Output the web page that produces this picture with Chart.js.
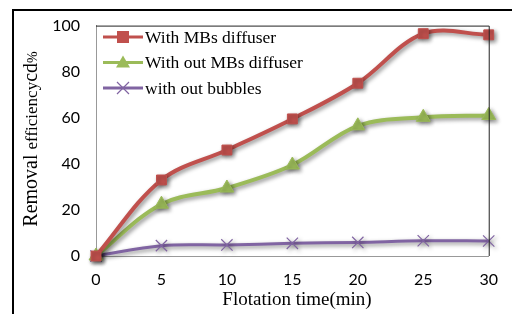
<!DOCTYPE html>
<html lang="en">
<head>
    <meta charset="UTF-8">
    <style>
        html, body { margin: 0; padding: 0; background: #fff; }
        #wrap { width: 512px; height: 314px; position: relative; }
    </style>
    <title>Removal efficiency</title>
</head>
<body>
    <div id="wrap">
        <canvas id="myChart" width="512" height="314"></canvas>
    </div>
    <script src="https://cdn.jsdelivr.net/npm/chart.js"></script>
    <script>
        // data
        const times = [0, 5, 10, 15, 20, 25, 30];
        const withMBs = [0, 33, 46, 59.5, 75, 96.5, 96];
        const withoutMBs = [0, 22.5, 29.5, 39.5, 56.5, 60.2, 61];
        const withoutBubbles = [0, 4.5, 4.8, 5.5, 5.9, 6.6, 6.5];
        const yTicks = [0, 20, 40, 60, 80, 100];

        const red = '#C0504D', green = '#9BBB59', purple = '#8064A2';
        const serif = '"Liberation Serif", "Times New Roman", serif';

        const series = [
            { label: 'With MBs diffuser', data: withMBs, color: red, style: 'rect', r: 7, w: 4 },
            { label: 'With out MBs diffuser', data: withoutMBs, color: green, style: 'triangle', r: 8, w: 4 },
            { label: 'with out bubbles', data: withoutBubbles, color: purple, style: 'crossRot', r: 8, w: 3 }
        ];

        function drawMarker(ctx, s, x, y) {
            ctx.save();
            ctx.fillStyle = s.color;
            ctx.strokeStyle = s.color;
            if (s.style === 'rect') {
                ctx.fillRect(x - 6, y - 6, 12, 12);
            } else if (s.style === 'triangle') {
                ctx.beginPath();
                ctx.moveTo(x, y - 7);
                ctx.lineTo(x + 7, y + 5);
                ctx.lineTo(x - 7, y + 5);
                ctx.closePath();
                ctx.fill();
            } else {
                ctx.lineWidth = 1.2;
                ctx.beginPath();
                ctx.moveTo(x - 6, y - 6); ctx.lineTo(x + 6, y + 6);
                ctx.moveTo(x + 6, y - 6); ctx.lineTo(x - 6, y + 6);
                ctx.stroke();
            }
            ctx.restore();
        }

        const decor = {
            id: 'decor',
            beforeDraw(chart) {
                const ctx = chart.ctx;
                ctx.save();
                // outer frame (left and top edges)
                ctx.strokeStyle = '#000';
                ctx.lineWidth = 2;
                ctx.beginPath();
                ctx.moveTo(13, 314);
                ctx.lineTo(13, 10);
                ctx.lineTo(512, 10);
                ctx.stroke();
                ctx.restore();
            },
            beforeDatasetDraw(chart) {
                const ctx = chart.ctx;
                ctx.save();
                ctx.shadowColor = 'rgba(0,0,0,0.45)';
                ctx.shadowBlur = 4;
                ctx.shadowOffsetX = 2;
                ctx.shadowOffsetY = 2;
            },
            afterDatasetDraw(chart) {
                chart.ctx.restore();
            },
            afterDraw(chart) {
                const ctx = chart.ctx;
                const a = chart.chartArea;
                ctx.save();
                // top and right plot border
                ctx.strokeStyle = '#222';
                ctx.lineWidth = 1;
                ctx.beginPath();
                ctx.moveTo(a.left, a.top + 0.5);
                ctx.lineTo(a.right + 0.5, a.top + 0.5);
                ctx.lineTo(a.right + 0.5, a.bottom);
                ctx.stroke();

                // legend
                ctx.font = '17.5px ' + serif;
                ctx.textBaseline = 'middle';
                ctx.textAlign = 'left';
                series.forEach((s, i) => {
                    const y = 37 + i * 25.5;
                    ctx.strokeStyle = s.color;
                    ctx.lineWidth = 3;
                    ctx.beginPath();
                    ctx.moveTo(103, y);
                    ctx.lineTo(143, y);
                    ctx.stroke();
                    drawMarker(ctx, s, 123, y);
                    ctx.fillStyle = '#000';
                    ctx.fillText(s.label, 145, y + 1);
                });

                // x title
                ctx.textAlign = 'center';
                ctx.textBaseline = 'alphabetic';
                ctx.font = '19px ' + serif;
                ctx.fillText('Flotation time(min)', 297, 305);

                // y title, mixed sizes
                ctx.translate(37, 139);
                ctx.rotate(-Math.PI / 2);
                const parts = [['Removal ', 20], ['efficiency', 17], ['cd', 20], ['%', 14]];
                let total = 0;
                parts.forEach(p => { ctx.font = p[1] + 'px ' + serif; p.push(ctx.measureText(p[0]).width); total += p[2]; });
                let x0 = -total / 2;
                ctx.textAlign = 'left';
                parts.forEach(p => {
                    ctx.font = p[1] + 'px ' + serif;
                    ctx.fillText(p[0], x0, 0);
                    x0 += p[2];
                });
                ctx.restore();
            }
        };

        new Chart(document.getElementById('myChart'), {
            type: 'line',
            data: {
                labels: times,
                datasets: series.map(s => ({
                    label: s.label,
                    data: s.data.map((v, i) => ({ x: times[i], y: v })),
                    borderColor: s.color,
                    backgroundColor: s.color,
                    borderWidth: s.w,
                    pointStyle: s.style,
                    pointRadius: s.r,
                    pointBorderWidth: s.style === 'crossRot' ? 1.2 : 1,
                    tension: 0.35,
                    fill: false,
                    clip: false
                }))
            },
            options: {
                responsive: false,
                animation: false,
                layout: { padding: { left: 0, top: 24, right: 17, bottom: 0 } },
                plugins: {
                    legend: { display: false },
                    tooltip: { enabled: false }
                },
                scales: {
                    x: {
                        type: 'linear',
                        min: 0,
                        max: 30,
                        afterBuildTicks: s => { s.ticks = times.map(v => ({ value: v })); },
                        afterFit: s => { s.height = 58; },
                        grid: { display: false, drawTicks: false },
                        border: { display: true, color: '#999', width: 1 },
                        ticks: {
                            padding: 14,
                            color: '#000',
                            font: { family: 'Lato, "Liberation Sans", sans-serif', size: 16 }
                        }
                    },
                    y: {
                        min: 0,
                        max: 100,
                        afterBuildTicks: s => { s.ticks = yTicks.map(v => ({ value: v })); },
                        afterFit: s => { s.width = 96; },
                        grid: { display: false, drawTicks: false },
                        border: { display: true, color: '#999', width: 1 },
                        ticks: {
                            padding: 16,
                            color: '#000',
                            font: { family: 'Lato, "Liberation Sans", sans-serif', size: 16 }
                        }
                    }
                }
            },
            plugins: [decor]
        });
    </script>
</body>
</html>
